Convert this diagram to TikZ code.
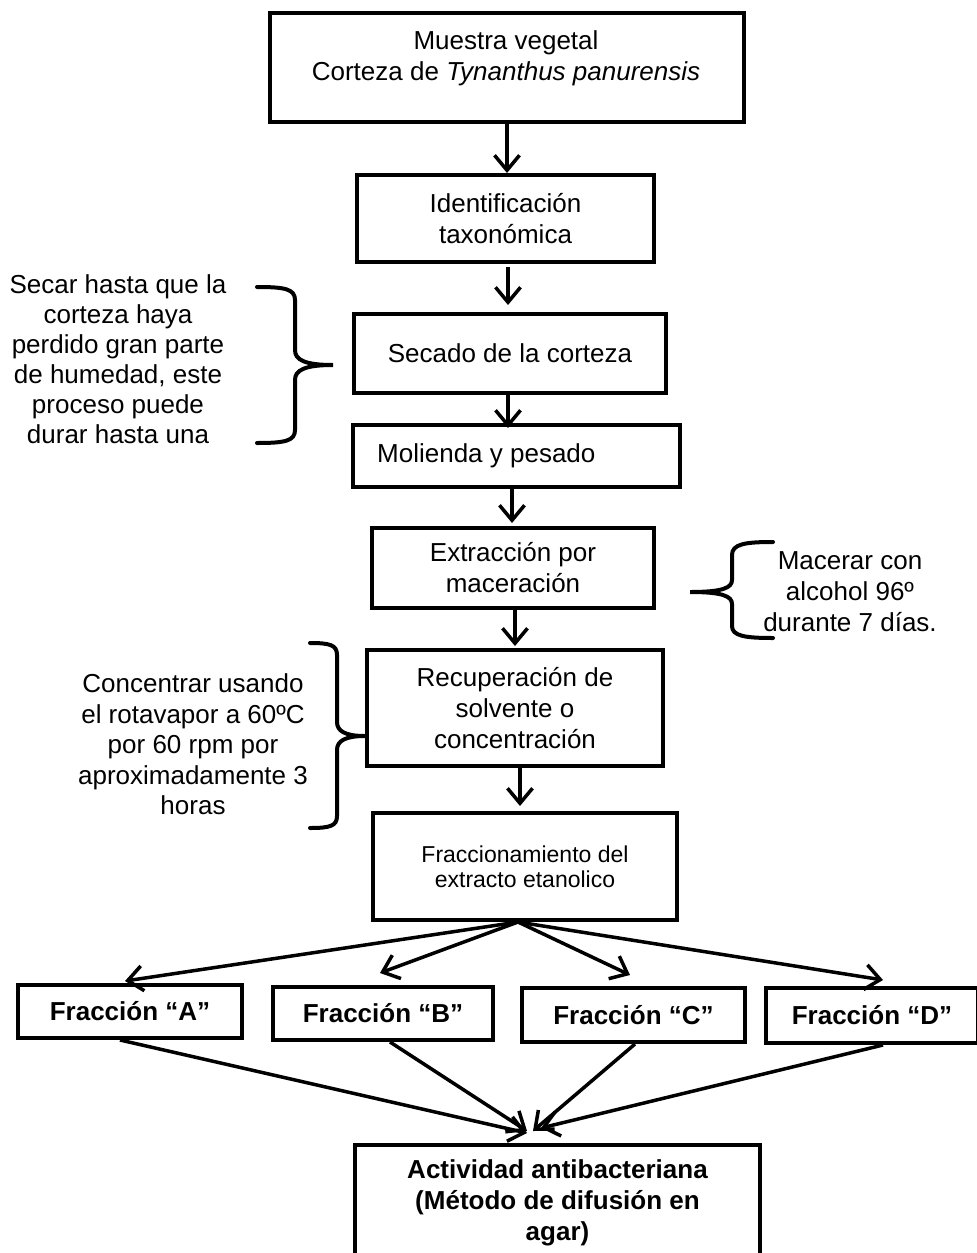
\documentclass[tikz,border=0pt]{standalone}
\usepackage{fontspec}
\setmainfont{Liberation Sans}
\usetikzlibrary{arrows.meta}
\begin{document}
\begin{tikzpicture}[x=1pt,y=-1pt,
  box/.style={draw, line width=4pt, inner sep=0pt, align=center, font=\fontsize{26}{31}\selectfont},
  smallbox/.style={box, font=\fontsize{23}{25}\selectfont},
  fbox/.style={box, font=\fontsize{26}{31}\selectfont\bfseries},
  txt/.style={inner sep=0pt, align=center, font=\fontsize{26}{31}\selectfont},
  arr/.style={line width=3.5pt, -{Straight Barb[length=15pt,width=25pt]}},
  brc/.style={line width=4pt, line cap=round}]
\useasboundingbox (0,0) rectangle (977,1253);
\clip (0,0) rectangle (977,1253);

% boxes
\node[box, minimum width=474pt, minimum height=109pt] (b1) at (507,67.5) {};
\node[txt] (t1) at (506,58.7) {Muestra vegetal\\Corteza de \textit{Tynanthus panurensis}};
\node[box, minimum width=297pt, minimum height=87pt] (b2) at (505.5,218.5) {Identificación\\taxonómica};
\node[box, minimum width=312pt, minimum height=79pt] (b3) at (510,353.5) {Secado de la corteza};
\node[box, minimum width=327pt, minimum height=62pt] (b4) at (516.5,456) {};
\node[txt, anchor=west] (t4) at (377,455.3) {Molienda y pesado};
\node[box, minimum width=282pt, minimum height=80pt] (b5) at (513,568) {Extracción por\\maceración};
\node[box, minimum width=296pt, minimum height=116pt] (b6) at (515,708) {Recuperación de\\solvente o\\concentración};
\node[smallbox, minimum width=304pt, minimum height=107pt] (b7) at (525,866.5) {Fraccionamiento del\\extracto etanolico};

\node[fbox, minimum width=224pt, minimum height=53pt] (fA) at (130,1011.5) {Fracción “A”};
\node[fbox, minimum width=220pt, minimum height=53pt] (fB) at (383,1013.5) {Fracción “B”};
\node[fbox, minimum width=223pt, minimum height=54pt] (fC) at (633.5,1015) {Fracción “C”};
\node[fbox, minimum width=212pt, minimum height=55pt] (fD) at (872,1015.5) {Fracción “D”};

\node[box, minimum width=405pt, minimum height=120pt] (fin) at (557.5,1205) {};
\node[txt, font=\fontsize{26}{31}\selectfont\bfseries] (tfin) at (557.5,1203) {Actividad antibacteriana\\(Método de difusión en\\agar)};

% side notes
\node[txt, font=\fontsize{26}{30}\selectfont] (s1) at (118,359.5) {Secar hasta que la\\corteza haya\\perdido gran parte\\de humedad, este\\proceso puede\\durar hasta una};
\node[txt] (s2) at (850,591.5) {Macerar con\\alcohol 96º\\durante 7 días.};
\node[txt, font=\fontsize{26}{30.5}\selectfont] (s3) at (193,744.5) {Concentrar usando\\el rotavapor a 60ºC\\por 60 rpm por\\aproximadamente 3\\horas};

% braces
\draw[brc] (257,287) .. controls (285,287) and (295,289) .. (295,300) -- (295,350)
  .. controls (295,360) and (305,365) .. (333,365)
  .. controls (305,365) and (295,370) .. (295,380) -- (295,430)
  .. controls (295,441) and (285,443) .. (257,443);
\draw[brc] (773,542) .. controls (745,542) and (732,544) .. (732,555) -- (732,580)
  .. controls (732,588) and (722,592) .. (690,592)
  .. controls (722,592) and (732,596) .. (732,604) -- (732,626)
  .. controls (732,636) and (745,638) .. (773,638);
\draw[brc] (310,643) .. controls (330,643) and (337,645) .. (337,655) -- (337,722)
  .. controls (337,731) and (345,736) .. (365,736)
  .. controls (345,736) and (337,741) .. (337,750) -- (337,816)
  .. controls (337,826) and (330,828) .. (310,828);

% vertical arrows
\draw[arr] (b1.south) -- (b1.south |- b2.north);
\draw[arr, shorten <=3pt, shorten >=7pt] ([xshift=2.5pt]b2.south) -- ([xshift=2.5pt]b2.south |- b3.north);
\draw[arr] ([xshift=-2pt]b3.south) -- ([xshift=-2pt,yshift=-5pt]b3.south |- b4.north);
\draw[arr, shorten >=3pt] ([xshift=-4.5pt]b4.south) -- ([xshift=-4.5pt]b4.south |- b5.north);
\draw[arr, shorten >=2pt] ([xshift=2pt]b5.south) -- ([xshift=2pt]b5.south |- b6.north);
\draw[arr, shorten >=5pt] ([xshift=5pt]b6.south) -- ([xshift=5pt]b6.south |- b7.north);

% fan out
\draw[arr] ([xshift=-7pt]b7.south) -- ([xshift=-5pt,yshift=2pt]fA.north);
\draw[arr] ([xshift=-7pt]b7.south) -- ([xshift=-3pt,yshift=12pt]fB.north);
\draw[arr] ([xshift=-7pt]b7.south) -- ([xshift=-3.5pt,yshift=11pt]fC.north);
\draw[arr] ([xshift=-7pt]b7.south) -- ([xshift=11pt,yshift=6pt]fD.north);

% fan in
\draw[arr] ([xshift=-10pt]fA.south) -- ([xshift=-30.5pt,yshift=10pt]fin.north);
\draw[arr] ([xshift=7pt]fB.south) -- ([xshift=-30.5pt,yshift=12pt]fin.north);
\draw[arr] ([xshift=1.5pt]fC.south) -- ([xshift=-24.5pt,yshift=12pt]fin.north);
\draw[arr] ([xshift=11pt]fD.south) -- ([xshift=-16.5pt,yshift=15pt]fin.north);
\end{tikzpicture}
\end{document}
